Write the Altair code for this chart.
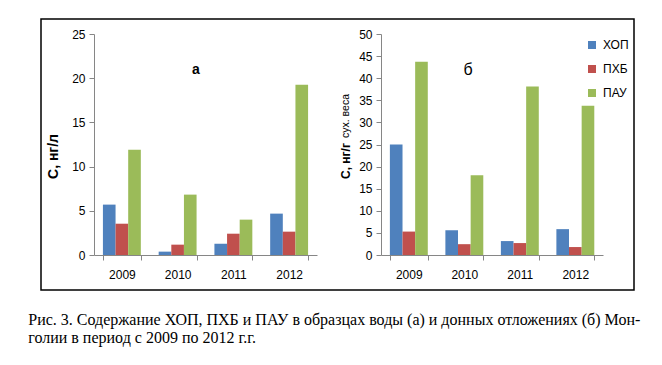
import altair as alt
import pandas as pd

years = ["2009", "2010", "2011", "2012"]
series = ["ХОП", "ПХБ", "ПАУ"]
colors = ["#4F81BD", "#C0504D", "#9BBB59"]

# (а) water, ng/l
water_hop = [5.7, 0.38, 1.28, 4.68]
water_pcb = [3.54, 1.17, 2.41, 2.64]
water_pah = [11.92, 6.83, 4.0, 19.25]

# (б) bottom sediments, ng/g dry weight
sed_hop = [25.0, 5.6, 3.15, 5.85]
sed_pcb = [5.3, 2.45, 2.7, 1.8]
sed_pah = [43.7, 18.05, 38.1, 33.75]

caption = [
    "Рис. 3. Содержание ХОП, ПХБ и ПАУ в образцах воды (а) и донных отложениях (б) Мон-",
    "голии в период с 2009 по 2012 г.г.",
]


def to_long(a, b, c):
    rows = []
    for s, vals in zip(series, [a, b, c]):
        for y, v in zip(years, vals):
            rows.append({"year": y, "series": s, "value": v})
    return pd.DataFrame(rows)


FONT = "Liberation Sans"
axis_common = dict(
    domainColor="#868686", tickColor="#868686", labelFont=FONT,
    labelFontSize=12, labelColor="black", tickSize=5, grid=False,
)


def bars(df, ymax, legend, width, height, ytitle):
    if ytitle is None:
        yaxis = alt.Axis(values=list(range(0, ymax + 1, 5)), labelPadding=4, title=None, **axis_common)
    else:
        yaxis = alt.Axis(values=list(range(0, ymax + 1, 5)), labelPadding=4, title=ytitle,
                         titleFont=FONT, titleFontSize=14, titleFontWeight="bold",
                         titleColor="black", titleX=-41, titleY=122,
                         titleBaseline="middle", titleAngle=-90, **axis_common)
    return alt.Chart(df).mark_bar().encode(
        x=alt.X("year:N", sort=years,
                scale=alt.Scale(paddingInner=0.32, paddingOuter=0.16),
                axis=alt.Axis(title=None, labelAngle=0, tickBand="extent",
                              labelPadding=9, **axis_common)),
        xOffset=alt.XOffset("series:N", sort=series,
                            scale=alt.Scale(paddingInner=0, paddingOuter=0)),
        y=alt.Y("value:Q", scale=alt.Scale(domain=[0, ymax], nice=False), axis=yaxis),
        color=alt.Color("series:N", sort=series,
                        scale=alt.Scale(domain=series, range=colors), legend=legend),
    ).properties(width=width, height=height)


one = pd.DataFrame({"k": [0]})

left_bars = bars(to_long(water_hop, water_pcb, water_pah), 25, None, 223, 221, "С, нг/л")
frame = alt.Chart(one).mark_rect(fill="transparent", stroke="black", strokeWidth=1.5, clip=False).encode(
    x=alt.value(-53), x2=alt.value(540), y=alt.value(-15), y2=alt.value(256)
)
label_a = alt.Chart(one).mark_text(text="а", font=FONT, fontSize=14, fontWeight="bold", color="black").encode(
    x=alt.value(102), y=alt.value(36)
)
left = alt.layer(frame, left_bars, label_a)

legend = alt.Legend(title=None, orient="none", legendX=205, legendY=5, symbolType="square",
                    symbolSize=64, symbolStrokeWidth=0, labelFont=FONT, labelFontSize=12,
                    labelColor="black", rowPadding=12, labelOffset=5, padding=0)
right_bars = bars(to_long(sed_hop, sed_pcb, sed_pah), 50, legend, 222, 221, None)
t_bold = alt.Chart(one).mark_text(text="С, нг/г", font=FONT, fontSize=12, fontWeight="bold",
                                   color="black", angle=270, align="left", baseline="middle").encode(
    x=alt.value(-35), y=alt.value(145)
)
t_norm = alt.Chart(one).mark_text(text="сух. веса", font=FONT, fontSize=10.5,
                                   color="black", angle=270, align="left", baseline="middle").encode(
    x=alt.value(-35), y=alt.value(104)
)
label_b = alt.Chart(one).mark_text(text="б", font=FONT, fontSize=16, color="black").encode(
    x=alt.value(87), y=alt.value(36)
)
right = alt.layer(right_bars, t_bold, t_norm, label_b)

chart = alt.hconcat(left, right, spacing=64, bounds="flush").resolve_legend(
    color="independent"
).properties(
    title=alt.TitleParams(text=caption, orient="bottom", anchor="start", dx=-12, offset=21,
                          font="Liberation Serif", fontSize=16, fontWeight="normal",
                          color="black", lineHeight=18),
    padding={"left": 20, "top": 10, "right": 5, "bottom": 5},
).configure_view(stroke=None)

chart.save("out.html", embed_options={"renderer": "svg", "actions": False})
